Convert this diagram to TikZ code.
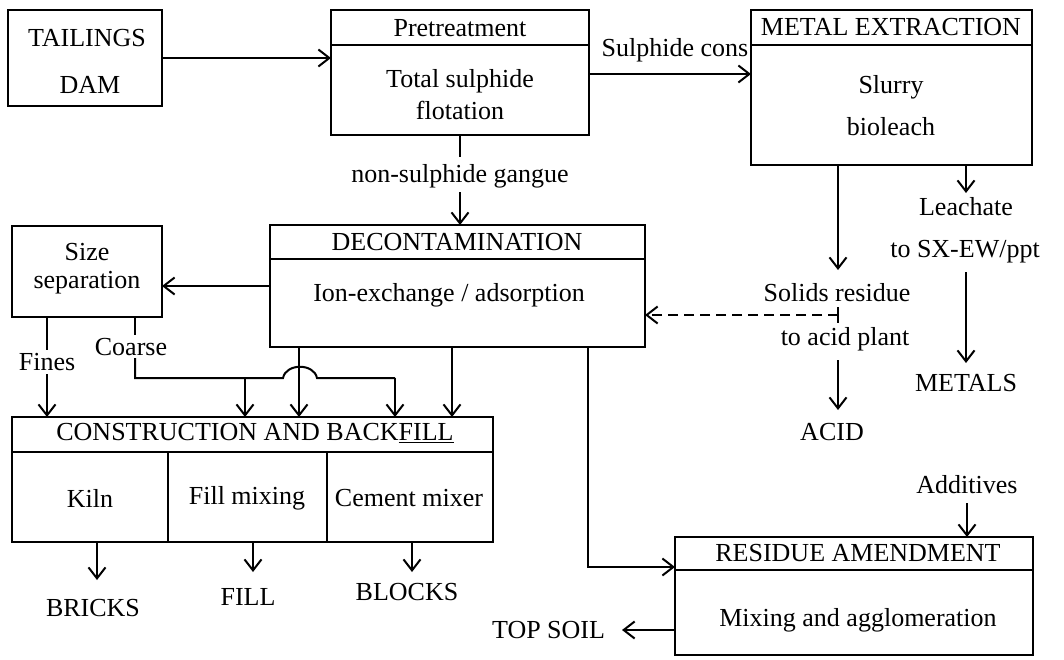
\documentclass[tikz,border=0pt]{standalone}
\usepackage{fontspec}
\setmainfont{Liberation Serif}
\usetikzlibrary{arrows.meta}
\begin{document}
\begin{tikzpicture}[x=1pt,y=-1pt,
  line width=2pt,
  box/.style={draw, inner sep=0pt, outer sep=0pt, line width=2pt},
  txt/.style={inner sep=0pt, outer sep=0pt, font=\fontsize{26}{31}\selectfont},
  arr/.style={-{Straight Barb[length=11pt,width=17pt]}},
  dsh/.style={dash pattern=on 10pt off 6pt},
]
\useasboundingbox (0,0) rectangle (1064,659);

% ---- boxes ----
\node[box, minimum width=154, minimum height=96]  (tail)  at (85,58) {};
\node[box, minimum width=258, minimum height=125] (pre)   at (460,72.5) {};
\node[box, minimum width=281, minimum height=155] (metal) at (891.5,87.5) {};
\node[box, minimum width=375, minimum height=122] (decon) at (457.5,286) {};
\node[box, minimum width=150, minimum height=91]  (size)  at (87,271.5) {};
\node[box, minimum width=481, minimum height=125] (cons)  at (252.5,479.5) {};
\node[box, minimum width=358, minimum height=118] (res)   at (854,596) {};

% ---- dividers ----
\draw (pre.west |- 0,45) -- (pre.east |- 0,45);
\draw (metal.west |- 0,45) -- (metal.east |- 0,45);
\draw (decon.west |- 0,259) -- (decon.east |- 0,259);
\draw (cons.west |- 0,452) -- (cons.east |- 0,452);
\draw (res.west |- 0,570) -- (res.east |- 0,570);
\draw (168,452) -- (168,542);
\draw (327,452) -- (327,542);

% ---- box texts ----
\node[txt] (t1) at (87,38) {TAILINGS};
\node[txt] (t2) at (90,85) {DAM};
\node[txt] (p1) at (460,28) {Pretreatment};
\node[txt] (p2) at (460,81) {Total sulphide};
\node[txt] (p3) at (460,110) {flotation};
\node[txt] (m1) at (891,27) {METAL EXTRACTION};
\node[txt] (m2) at (891,87) {Slurry};
\node[txt] (m3) at (891,127) {bioleach};
\node[txt] (d1) at (457,242) {DECONTAMINATION};
\node[txt] (d2) at (449,295) {Ion-exchange / adsorption};
\node[txt] (s1) at (87,252) {Size};
\node[txt] (s2) at (87,283) {separation};
\node[txt] (c0) at (255,433) {CONSTRUCTION AND BACK\underline{FILL}};
\node[txt] (c1) at (90,498) {Kiln};
\node[txt] (c2) at (247,498) {Fill mixing};
\node[txt] (c3) at (409,498) {Cement mixer};
\node[txt] (r1) at (858,553) {RESIDUE AMENDMENT};
\node[txt] (r2) at (858,620) {Mixing and agglomeration};

% ---- free labels ----
\node[txt] (sc)     at (675,50)  {Sulphide cons};
\node[txt] (gangue) at (460,176) {non-sulphide gangue};
\node[txt] (fines)  at (47,362)  {Fines};
\node[txt] (coarse) at (131,347) {Coarse};
\node[txt] (solids) at (837,293) {Solids residue};
\node[txt] (acidp)  at (845,339) {to acid plant};
\node[txt] (acid)   at (832,432) {ACID};
\node[txt] (leach)  at (966,207) {Leachate};
\node[txt] (sxew)   at (965,252) {to SX-EW/ppt};
\node[txt] (metals) at (966,383) {METALS};
\node[txt] (bricks) at (93,608)  {BRICKS};
\node[txt] (fill)   at (248,597) {FILL};
\node[txt] (blocks) at (407,592) {BLOCKS};
\node[txt] (addit)  at (967,485) {Additives};
\node[txt, anchor=east] (topsoil) at (605,630) {TOP SOIL};
\coordinate (tsend) at (622,630);

% ---- connectors ----
\draw[arr] (tail.east) -- (tail.east -| pre.west);
\draw[arr] (pre.east |- 0,74) -- (metal.west |- 0,74);
\draw (pre.south) -- (460,157);
\draw[arr] (460,192) -- (decon.north -| 460,0);
\draw[arr] (decon.west) -- (size.east |- decon.west);

% fines / coarse
\draw (size.south -| 47,0) -- (47,350);
\draw[arr] (47,374) -- (cons.north -| 47,0);
\draw (size.south -| 135,0) -- (135,335);
\coordinate (cj) at (135,378);
\draw (135,358) -- (cj) -- (283,378) .. controls (286,363) and (314,363) .. (317,378) -- (395,378);
\draw[arr] (395,378) -- (cons.north -| 395,0);
\draw[arr] (245,378) -- (cons.north -| 245,0);

% decontamination downwards
\draw[arr] (decon.south -| 299,0) -- (cons.north -| 299,0);
\draw[arr] (decon.south -| 452,0) -- (cons.north -| 452,0);
\draw[arr] (decon.south -| 588,0) -- (588,567) -- (res.west |- 0,567);

% metal extraction outputs
\draw[arr] (metal.south -| 838,0) -- (838,270);
\coordinate (dj) at (838,315);
\draw (838,307) -- (838,323);
\draw[arr, dsh] (dj) -- (decon.east |- dj);
\draw[arr] (838,360) -- (838,410);
\draw[arr] (metal.south -| 966,0) -- (966,193);
\draw[arr] (966,272) -- (966,363);

% construction outputs
\draw[arr] (cons.south -| 97,0) -- (97,580);
\draw[arr] (cons.south -| 253,0) -- (253,572);
\draw[arr] (cons.south -| 412,0) -- (412,572);

% residue amendment
\draw[arr] (967,503) -- (res.north -| 967,0);
\draw[arr] (res.west |- tsend) -- (tsend);
\end{tikzpicture}
\end{document}
